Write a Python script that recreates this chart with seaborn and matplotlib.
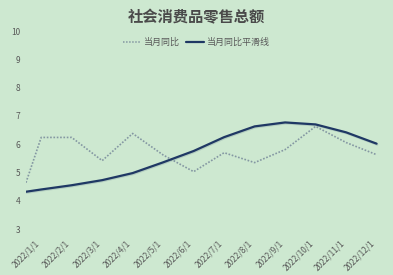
import numpy as np
import pandas as pd
import matplotlib
matplotlib.use("Agg")
import matplotlib.pyplot as plt
import matplotlib.patheffects as pe
from matplotlib.lines import Line2D
from matplotlib.transforms import ScaledTranslation
import seaborn as sns

# Monthly categories
months = ['2022/1/1', '2022/2/1', '2022/3/1', '2022/4/1', '2022/5/1', '2022/6/1',
          '2022/7/1', '2022/8/1', '2022/9/1', '2022/10/1', '2022/11/1', '2022/12/1']

# 当月同比 (month-on-month y/y growth), with the opening value at the axis edge
yoy_open = 4.64
yoy = [6.24, 6.24, 5.42, 6.38, 5.62, 5.03, 5.70, 5.35, 5.81, 6.63, 6.06, 5.63]

# 当月同比平滑线 (smoothed series), with its opening value at the axis edge
smooth_open = 4.32
smooth = [4.40, 4.55, 4.73, 4.98, 5.36, 5.76, 6.25, 6.63, 6.77, 6.70, 6.42, 6.02]

y_ticks = [3, 4, 5, 6, 7, 8, 9, 10]

BG = '#cde8d0'
TXT = '#595959'

sns.set_theme(style='white')
plt.rcParams['font.family'] = ['Noto Sans CJK SC', 'DejaVu Sans']
plt.rcParams['axes.unicode_minus'] = False

fig = plt.figure(figsize=(3.93, 2.75), dpi=100, facecolor=BG)
ax = fig.add_axes([0.066, 0.167, 0.931, 0.72], facecolor=BG)

x_left = -0.5
pos = np.arange(len(months))
df_yoy = pd.DataFrame({'x': np.r_[x_left, pos], 'v': [yoy_open] + yoy})
df_sm = pd.DataFrame({'x': np.r_[x_left, pos], 'v': [smooth_open] + smooth})

sns.lineplot(data=df_yoy, x='x', y='v', ax=ax, color='#8497a2', lw=1.2,
             linestyle=(0, (1, 1)), sort=False)
sns.lineplot(data=df_sm, x='x', y='v', ax=ax, color='#1f3864', lw=1.6, sort=False,
             path_effects=[pe.SimpleLineShadow(offset=(0.5, -0.7), alpha=0.15,
                                               shadow_color='#1f3864'),
                           pe.Normal()])

ax.set_xlim(-0.5, 11.5)
ax.set_ylim(3, 10)
ax.set_yticks(y_ticks)
ax.set_yticklabels([str(t) for t in y_ticks], fontsize=6, color=TXT)
ax.set_xticks(pos)
ax.set_xticklabels(months, rotation=45, ha='right', fontsize=6, color=TXT)
shift = ScaledTranslation(6 / 100, 0, fig.dpi_scale_trans)
for lab in ax.get_xticklabels():
    lab.set_transform(lab.get_transform() + shift)
ax.tick_params(axis='both', length=0)
ax.tick_params(axis='x', pad=7)
ax.tick_params(axis='y', pad=4)
ax.set_xlabel('')
ax.set_ylabel('')
for s in ax.spines.values():
    s.set_visible(False)
ax.grid(False)

fig.text(0.5, 0.938, '社会消费品零售总额', ha='center', va='center',
         fontsize=11, fontweight='bold', color='#4a4a4a')

handles = [Line2D([], [], color='#8497a2', lw=1.1, linestyle=(0, (1, 1))),
           Line2D([], [], color='#1f3864', lw=1.6)]
fig.legend(handles, ['当月同比', '当月同比平滑线'], loc='center',
           bbox_to_anchor=(0.5, 0.847), ncol=2, frameon=False, fontsize=6.5,
           labelcolor=TXT, handlelength=2.0, handletextpad=0.4, columnspacing=0.6)

fig.savefig('out.png', dpi=100, facecolor=BG)
